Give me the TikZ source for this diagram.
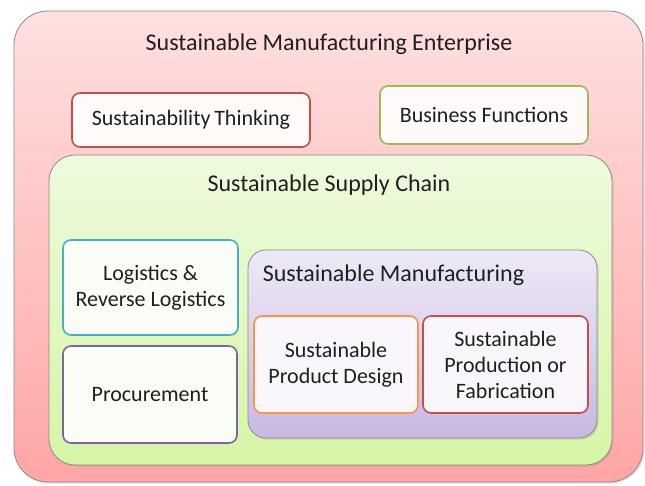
\documentclass[tikz,border=0pt]{standalone}
\usepackage{fontspec}
\setmainfont{Carlito}
\usepackage{tikz}
\usetikzlibrary{shadows}
\definecolor{txt}{HTML}{1F1F1F}
\definecolor{c_red}{HTML}{C0504D}
\definecolor{c_green}{HTML}{9BBB59}
\definecolor{c_blue}{HTML}{4BACC6}
\definecolor{c_purple}{HTML}{8064A2}
\definecolor{c_orange}{HTML}{F79646}
\tikzset{
  zone/.style = {rectangle, draw=black!45, line width=0.8pt, inner sep=0pt,
    drop shadow={opacity=0.25, shadow xshift=1.5pt, shadow yshift=-1.5pt}},
  zone_r/.style = {zone, rounded corners=34pt, top color=red!12, bottom color=red!35},% entreprise
  zone_g/.style = {zone, rounded corners=26pt, top color={rgb,255:red,238;green,250;blue,222},
    bottom color={rgb,255:red,214;green,245;blue,165}},% supply chain
  zone_v/.style = {zone, rounded corners=18pt, top color={rgb,255:red,238;green,233;blue,247},
    bottom color={rgb,255:red,200;green,184;blue,228}},% manufacturing
  title/.style = {text=txt, font=\fontsize{24}{28}\selectfont, inner sep=0pt},
  item/.style = {rectangle, rounded corners=8pt, line width=1.6pt, align=center,
    inner sep=0pt, text=txt, font=\fontsize{22}{26}\selectfont},
  item_r/.style = {item, draw=c_red, fill=red!2},
  item_g/.style = {item, draw=c_green, fill=red!2},
  item_b/.style = {item, draw=c_blue, fill={rgb,255:red,250;green,253;blue,245}},
  item_p/.style = {item, draw=c_purple, fill={rgb,255:red,250;green,253;blue,245}},
  item_o/.style = {item, draw=c_orange, fill={rgb,255:red,249;green,247;blue,252}},
  item_m/.style = {item, draw=c_red, fill={rgb,255:red,249;green,247;blue,252}}
}
\begin{document}
\begin{tikzpicture}[x=1pt,y=-1pt]
\useasboundingbox (0,0) rectangle (645,485);
% enveloppes
\node [zone_r, minimum width=629pt, minimum height=471pt] (entreprise) at (328.5,246.5) {};
\node [zone_g, minimum width=563pt, minimum height=310pt] (chaine) at (330.5,310) {};
\node [zone_v, minimum width=349pt, minimum height=188pt] (fabrication) at (422.5,344) {};
% titres
\node [title] (t_entreprise) at (329,44) {Sustainable Manufacturing Enterprise};
\node [title] (t_chaine) at (329,185) {Sustainable Supply Chain};
\node [title] (t_fabrication) at (393.5,275) {Sustainable Manufacturing};
% blocs
\node [item_r, minimum width=238pt, minimum height=54pt] (pensee) at (191,120) {Sustainability\,Thinking};
\node [item_g, minimum width=208pt, minimum height=58pt] (fonctions) at (484,115) {Business Functions};
\node [item_b, minimum width=175pt, minimum height=95pt] (logistique) at (150.5,287.5) {Logistics \&\\Reverse Logistics};
\node [item_p, minimum width=174pt, minimum height=97pt] (achats) at (150,394.5) {Procurement};
\node [item_o, minimum width=164pt, minimum height=97pt] (conception) at (336,364.5) {Sustainable\\Product Design};
\node [item_m, minimum width=165pt, minimum height=97pt] (production) at (505.5,364.5) {Sustainable\\Production or\\Fabrication};
\end{tikzpicture}
\end{document}
